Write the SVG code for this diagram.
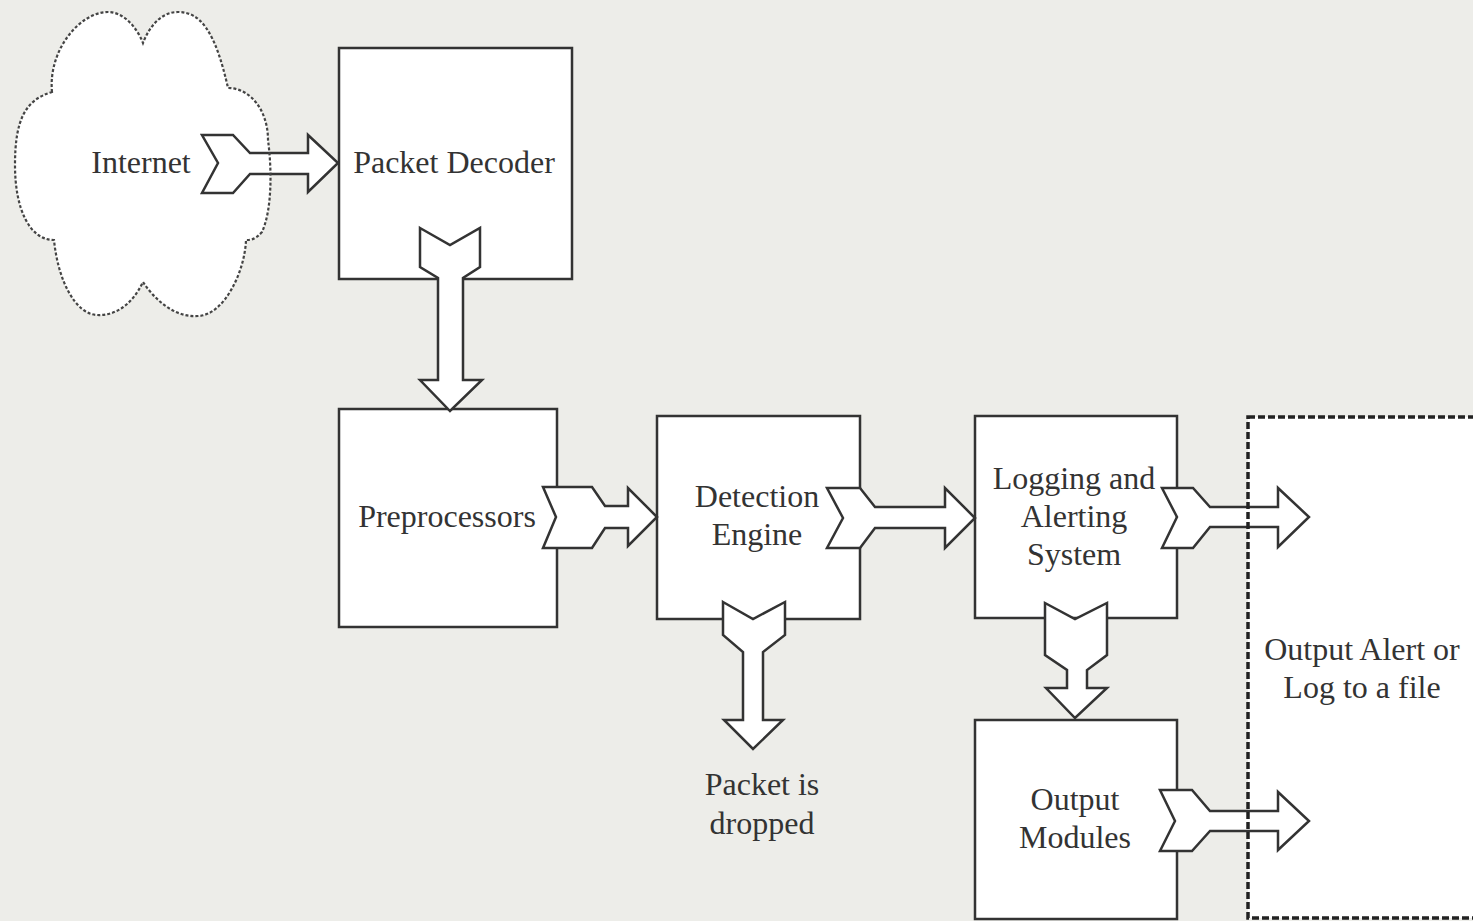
<svg xmlns="http://www.w3.org/2000/svg" xmlns:xlink="http://www.w3.org/1999/xlink" width="1473" height="921" viewBox="0 0 1473 921">
<style>
.box{fill:#fff;stroke:#333;stroke-width:2.5}
.arrow{fill:#fff;stroke:#333;stroke-width:2.5;stroke-linejoin:miter}
.lbl{font-family:"Liberation Serif","Times New Roman",serif;font-size:32px;fill:#333;text-anchor:middle}
.cloudline{fill:none;stroke:#444;stroke-width:2.2;stroke-dasharray:3 2}
.outline{fill:none;stroke:#222;stroke-width:3.5;stroke-dasharray:7 3}
</style>
<defs>
<path id="cloudPath" d="M 52,92 C 48,50 80,12 108,12 C 125,12 138,30 143,43 C 150,25 162,12 178,12 C 200,12 215,30 228,88 C 250,88 268,110 268,140 C 272,170 272,210 262,232 C 255,240 250,240 246,240 C 245,270 225,315 198,316 C 175,318 155,300 143,282 C 132,305 115,316 97,315 C 75,314 58,280 54,240 C 30,240 15,210 15,165 C 15,120 25,100 52,92 Z"/>
<rect id="outRect" x="1248" y="417" width="240" height="501"/>
</defs>
<rect width="1473" height="921" fill="#edede9"/>
<g id="internet">
<use xlink:href="#cloudPath" fill="#fff"/>
<text class="lbl" x="141" y="173">Internet</text>
</g>
<g id="output-file">
<use xlink:href="#outRect" fill="#fff"/>
<text class="lbl" x="1362" y="660">Output Alert or</text>
<text class="lbl" x="1362" y="698">Log to a file</text>
</g>
<g id="packet-decoder">
<rect class="box" x="339" y="48" width="233" height="231"/>
<text class="lbl" x="454" y="173">Packet Decoder</text>
</g>
<g id="preprocessors">
<rect class="box" x="339" y="409" width="218" height="218"/>
<text class="lbl" x="447" y="527">Preprocessors</text>
</g>
<g id="detection-engine">
<rect class="box" x="657" y="416" width="203" height="203"/>
<text class="lbl" x="757" y="507">Detection</text>
<text class="lbl" x="757" y="545">Engine</text>
</g>
<g id="logging-alerting">
<rect class="box" x="975" y="416" width="202" height="202"/>
<text class="lbl" x="1074" y="489">Logging and</text>
<text class="lbl" x="1074" y="527">Alerting</text>
<text class="lbl" x="1074" y="565">System</text>
</g>
<g id="output-modules">
<rect class="box" x="975" y="720" width="202" height="199"/>
<text class="lbl" x="1075" y="810">Output</text>
<text class="lbl" x="1075" y="848">Modules</text>
</g>
<g id="packet-dropped">
<text class="lbl" x="762" y="795">Packet is</text>
<text class="lbl" x="762" y="834">dropped</text>
</g>
<g id="connectors">
<path class="arrow" d="M 202,135 L 233,135 L 250,153 L 308,153 L 308,135 L 338,163 L 308,192 L 308,174 L 250,174 L 233,193 L 202,193 L 218,163 Z"/>
<path class="arrow" d="M 420,228 L 450,245 L 480,228 L 480,267 L 463,278 L 463,380 L 482,380 L 450,411 L 420,380 L 438,380 L 438,278 L 420,267 Z"/>
<path class="arrow" d="M 543,487 L 592,487 L 605,506 L 628,506 L 628,488 L 657,517 L 628,546 L 628,528 L 605,528 L 592,548 L 543,548 L 556,517 Z"/>
<path class="arrow" d="M 827,488 L 860,488 L 875,507 L 945,507 L 945,488 L 975,518 L 945,548 L 945,528 L 875,528 L 860,548 L 827,548 L 843,518 Z"/>
<path class="arrow" d="M 723,602 L 753,619 L 785,602 L 785,635 L 763,652 L 763,720 L 783,720 L 753,749 L 724,720 L 743,720 L 743,652 L 723,635 Z"/>
<path class="arrow" d="M 1162,488 L 1193,488 L 1210,507 L 1278,507 L 1278,488 L 1309,517 L 1278,547 L 1278,527 L 1210,527 L 1193,548 L 1162,548 L 1177,517 Z"/>
<path class="arrow" d="M 1045,603 L 1075,619 L 1107,603 L 1107,655 L 1087,670 L 1087,688 L 1107,688 L 1075,718 L 1046,688 L 1067,688 L 1067,670 L 1045,655 Z"/>
<path class="arrow" d="M 1160,790 L 1192,790 L 1210,811 L 1278,811 L 1278,792 L 1309,821 L 1278,850 L 1278,831 L 1210,831 L 1192,851 L 1160,851 L 1175,821 Z"/>
</g>
<g id="dashed-outlines">
<use xlink:href="#cloudPath" class="cloudline"/>
<use xlink:href="#outRect" class="outline"/>
</g>
</svg>
